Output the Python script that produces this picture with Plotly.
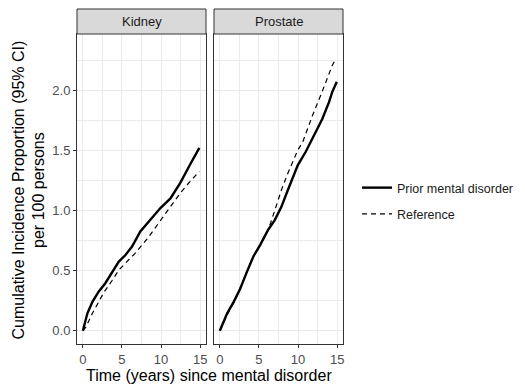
import plotly.graph_objects as go

# ---- data ----
kidney_prior_x = [0, 0.58, 1.22, 2.02, 2.87, 3.76, 4.6, 5.45, 6.29, 7.35, 8.66, 9.92, 11.2, 12.46, 13.7, 14.9]
kidney_prior_y = [0, 0.145, 0.24, 0.325, 0.395, 0.49, 0.575, 0.63, 0.70, 0.825, 0.92, 1.02, 1.10, 1.23, 1.38, 1.52]
kidney_ref_x = [0, 0.38, 1.22, 2.7, 3.76, 4.6, 5.87, 6.7, 8.3, 9.92, 11.2, 12.46, 13.7, 14.9]
kidney_ref_y = [0, 0.03, 0.145, 0.32, 0.42, 0.505, 0.59, 0.645, 0.77, 0.92, 1.03, 1.145, 1.24, 1.325]
prostate_prior_x = [0, 0.93, 1.77, 2.6, 3.46, 4.3, 5.13, 6.18, 7.02, 7.87, 8.7, 9.96, 11.0, 12.07, 13.1, 13.96, 14.4, 14.96]
prostate_prior_y = [0, 0.145, 0.24, 0.35, 0.49, 0.62, 0.71, 0.84, 0.92, 1.03, 1.17, 1.375, 1.49, 1.625, 1.76, 1.90, 1.99, 2.07]
prostate_ref_x = [0, 1.0, 2.0, 3.0, 4.0, 5.0, 6.2, 7.02, 7.87, 8.7, 9.96, 10.6, 11.85, 13.1, 14.4, 14.83]
prostate_ref_y = [0, 0.14, 0.26, 0.42, 0.58, 0.70, 0.84, 1.0, 1.17, 1.31, 1.5, 1.57, 1.79, 1.99, 2.21, 2.26]
panels = ["Kidney", "Prostate"]
series_names = ["Prior mental disorder", "Reference"]
x_ticks = [0, 5, 10, 15]
y_ticks = [0.0, 0.5, 1.0, 1.5, 2.0]
y_tick_labels = ["0.0", "0.5", "1.0", "1.5", "2.0"]

OFF = 8  # page body margin
W, H = 525 - OFF, 387 - OFF
FONT = "Liberation Sans, Arial, sans-serif"

fig = go.Figure()
data = [
    ("x", "y", kidney_prior_x, kidney_prior_y, kidney_ref_x, kidney_ref_y, True),
    ("x2", "y2", prostate_prior_x, prostate_prior_y, prostate_ref_x, prostate_ref_y, False),
]
for xa, ya, px, py, rx, ry, show in data:
    fig.add_trace(go.Scatter(x=px, y=py, mode="lines", xaxis=xa, yaxis=ya,
                             name=series_names[0], legendgroup="a", showlegend=show,
                             line=dict(color="black", width=2.4)))
    fig.add_trace(go.Scatter(x=rx, y=ry, mode="lines", xaxis=xa, yaxis=ya,
                             name=series_names[1], legendgroup="b", showlegend=show,
                             line=dict(color="black", width=1.2, dash="5px,4px")))

def px2x(p):
    return (p - OFF) / W

def px2y(p):
    return 1 - (p - OFF) / H

left1, right1 = 77, 206
left2, right2 = 214, 343
top, bottom = 34, 344
strip_top = 9

axis_common = dict(
    showline=True, linecolor="#333333", linewidth=1, mirror=True,
    ticks="outside", ticklen=3, tickcolor="#333333", tickwidth=1,
    tickfont=dict(family=FONT, size=13, color="#4D4D4D"),
    showgrid=True, gridcolor="#EBEBEB", gridwidth=1.1, zeroline=False,
)
xcommon = dict(axis_common, range=[-0.75, 15.75], tickvals=x_ticks,
               minor=dict(showgrid=True, gridcolor="#EBEBEB", gridwidth=0.6, tickvals=[2.5, 7.5, 12.5]))
ycommon = dict(axis_common, range=[-0.11, 2.467], tickvals=y_ticks, ticktext=y_tick_labels,
               minor=dict(showgrid=True, gridcolor="#EBEBEB", gridwidth=0.6, tickvals=[0.25, 0.75, 1.25, 1.75, 2.25]))

fig.update_layout(
    width=W, height=H,
    margin=dict(l=0, r=0, t=0, b=0),
    paper_bgcolor="white", plot_bgcolor="white",
    xaxis=dict(xcommon, domain=[px2x(left1), px2x(right1)], anchor="y"),
    xaxis2=dict(xcommon, domain=[px2x(left2), px2x(right2)], anchor="y2"),
    yaxis=dict(ycommon, domain=[px2y(bottom), px2y(top)], anchor="x"),
    yaxis2=dict(ycommon, domain=[px2y(bottom), px2y(top)], anchor="x2", showticklabels=False, ticks=""),
    showlegend=True,
    legend=dict(x=px2x(357), y=px2y(173), xanchor="left", yanchor="top",
                font=dict(family=FONT, size=12.5, color="#1A1A1A"),
                tracegroupgap=7, bgcolor="rgba(0,0,0,0)"),
    font=dict(family=FONT),
)

shapes = []
annotations = []
for (l, r), name in zip([(left1, right1), (left2, right2)], panels):
    shapes.append(dict(type="rect", xref="paper", yref="paper",
                       x0=px2x(l), x1=px2x(r), y0=px2y(top), y1=px2y(strip_top),
                       fillcolor="#D9D9D9", line=dict(color="#333333", width=1)))
    annotations.append(dict(text=name, xref="paper", yref="paper",
                            x=px2x((l + r) / 2), y=px2y((top + strip_top) / 2),
                            showarrow=False, xanchor="center", yanchor="middle",
                            font=dict(family=FONT, size=13, color="#1A1A1A")))

annotations.append(dict(text="Time (years) since mental disorder", xref="paper", yref="paper",
                        x=px2x(209), y=px2y(375), showarrow=False, xanchor="center", yanchor="middle",
                        font=dict(family=FONT, size=16, color="black")))
annotations.append(dict(text="Cumulative Incidence Proportion (95% CI)<br>per 100 persons",
                        xref="paper", yref="paper", textangle=-90,
                        x=px2x(28.5), y=px2y(190), showarrow=False, xanchor="center", yanchor="middle",
                        font=dict(family=FONT, size=16, color="black")))

fig.update_layout(shapes=shapes, annotations=annotations)
fig.write_html("out.html")
